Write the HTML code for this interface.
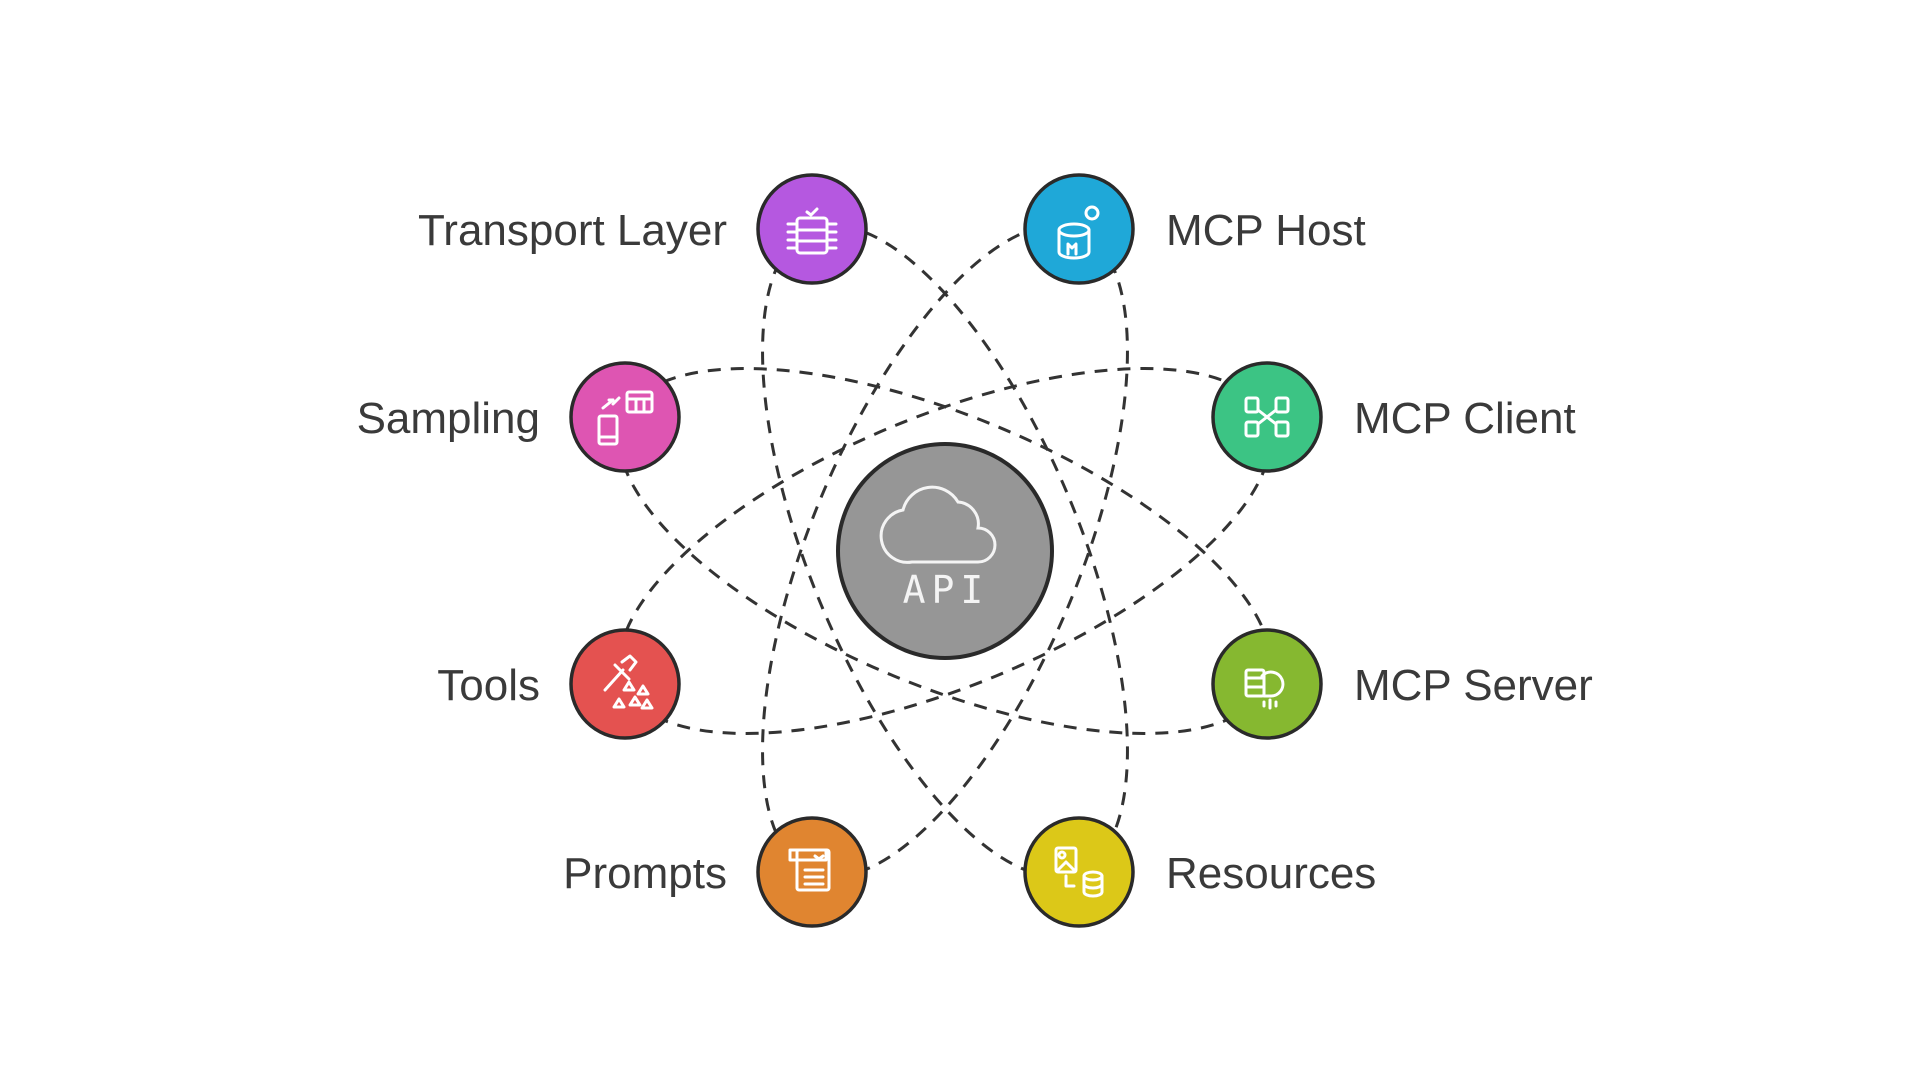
<!DOCTYPE html>
<html><head><meta charset="utf-8"><style>
html,body{margin:0;padding:0;background:#fff;width:1920px;height:1080px;overflow:hidden}
text{font-family:"Liberation Sans",Arial,sans-serif;font-size:44px;fill:#3a3a3a}
</style></head><body>
<svg width="1920" height="1080" viewBox="0 0 1920 1080" xmlns="http://www.w3.org/2000/svg">
<g fill="none" stroke="#333" stroke-width="3" stroke-dasharray="13 10">
<ellipse cx="945" cy="551" rx="348" ry="135" transform="rotate(22.5 945 551)"/>
<ellipse cx="945" cy="551" rx="348" ry="135" transform="rotate(-22.5 945 551)"/>
<ellipse cx="945" cy="551" rx="348" ry="135" transform="rotate(67.5 945 551)"/>
<ellipse cx="945" cy="551" rx="348" ry="135" transform="rotate(-67.5 945 551)"/>
</g>
<circle cx="945" cy="551" r="107" fill="#969696" stroke="#2a2a2a" stroke-width="4"/>
<path d="M912 562 h66 a17 17 0 0 0 0-34 a22 22 0 0 0-20-26 a30 30 0 0 0-55 8 a22 22 0 0 0 9 52z" fill="none" stroke="#f4f4f4" stroke-width="3"/>
<text x="946" y="603" text-anchor="middle" style="font-family:'DejaVu Sans Mono',monospace;font-size:38px;fill:#f4f4f4;letter-spacing:6px">API</text>
<g stroke="#2a2a2a" stroke-width="3.5">
<circle cx="812" cy="229" r="54" fill="#b558e0"/>
<circle cx="1079" cy="229" r="54" fill="#1fa8d8"/>
<circle cx="625" cy="417" r="54" fill="#de55b2"/>
<circle cx="1267" cy="417" r="54" fill="#3cc484"/>
<circle cx="625" cy="684" r="54" fill="#e45250"/>
<circle cx="1267" cy="684" r="54" fill="#86b830"/>
<circle cx="812" cy="872" r="54" fill="#e08530"/>
<circle cx="1079" cy="872" r="54" fill="#dcc818"/>
</g>
<g fill="none" stroke="#fff" stroke-width="3" stroke-linecap="round" stroke-linejoin="round">
<rect x="797" y="218" width="30" height="35" rx="3"/><path d="M788 224h9M788 232h9M788 240h9M788 248h9M827 224h9M827 232h9M827 240h9M827 248h9M797 230h30M797 241h30M807 212l4 3 6-6"/>
<ellipse cx="1074" cy="230" rx="15" ry="6"/><path d="M1059 230v22a15 6 0 0 0 30 0v-22M1068 254v-10l4 4 4-4v10"/><circle cx="1092" cy="213" r="6"/>
<rect x="599" y="416" width="18" height="28" rx="2"/><path d="M599 437h18"/><rect x="627" y="392" width="25" height="20" rx="2"/><path d="M627 399h25M636 399v13M644 399v13"/><path d="M603 408l10-8M613 400l-4 0M619 398l-6 6"/>
<rect x="1246" y="398" width="12" height="14" rx="2"/><rect x="1276" y="398" width="12" height="14" rx="2"/><rect x="1246" y="422" width="12" height="14" rx="2"/><rect x="1276" y="422" width="12" height="14" rx="2"/><path d="M1258 410l18 14M1276 410l-18 14"/>
<path d="M605 690l18-20M615 665l14 14M622 662l8-6 6 6-6 8"/><path d="M614 707l5-8 5 8zM630 705l5-8 5 8zM638 694l5-8 5 8zM624 690l5-8 5 8zM642 708l5-8 5 8z"/>
<rect x="1246" y="670" width="18" height="26" rx="2"/><path d="M1246 678h18M1246 687h18M1262 676a12 12 0 1 1 8 20h-6M1270 700v8M1264 702v4M1276 702v4"/>
<rect x="797" y="850" width="32" height="40" rx="2"/><path d="M790 850h36v10h-36zM805 870h18M805 877h18M805 884h18M815 856l4 3 4-3"/>
<rect x="1056" y="848" width="20" height="24" rx="2"/><circle cx="1062" cy="855" r="3"/><path d="M1058 870l8-8 8 8M1066 876v10h8"/><ellipse cx="1093" cy="876" rx="9" ry="4"/><path d="M1084 876v16a9 4 0 0 0 18 0v-16M1084 884a9 4 0 0 0 18 0"/>
</g>
<text x="727" y="245" text-anchor="end">Transport Layer</text>
<text x="1166" y="245">MCP Host</text>
<text x="540" y="433" text-anchor="end">Sampling</text>
<text x="1354" y="433">MCP Client</text>
<text x="540" y="700" text-anchor="end">Tools</text>
<text x="1354" y="700">MCP Server</text>
<text x="727" y="888" text-anchor="end">Prompts</text>
<text x="1166" y="888">Resources</text>
</svg>
</body></html>
